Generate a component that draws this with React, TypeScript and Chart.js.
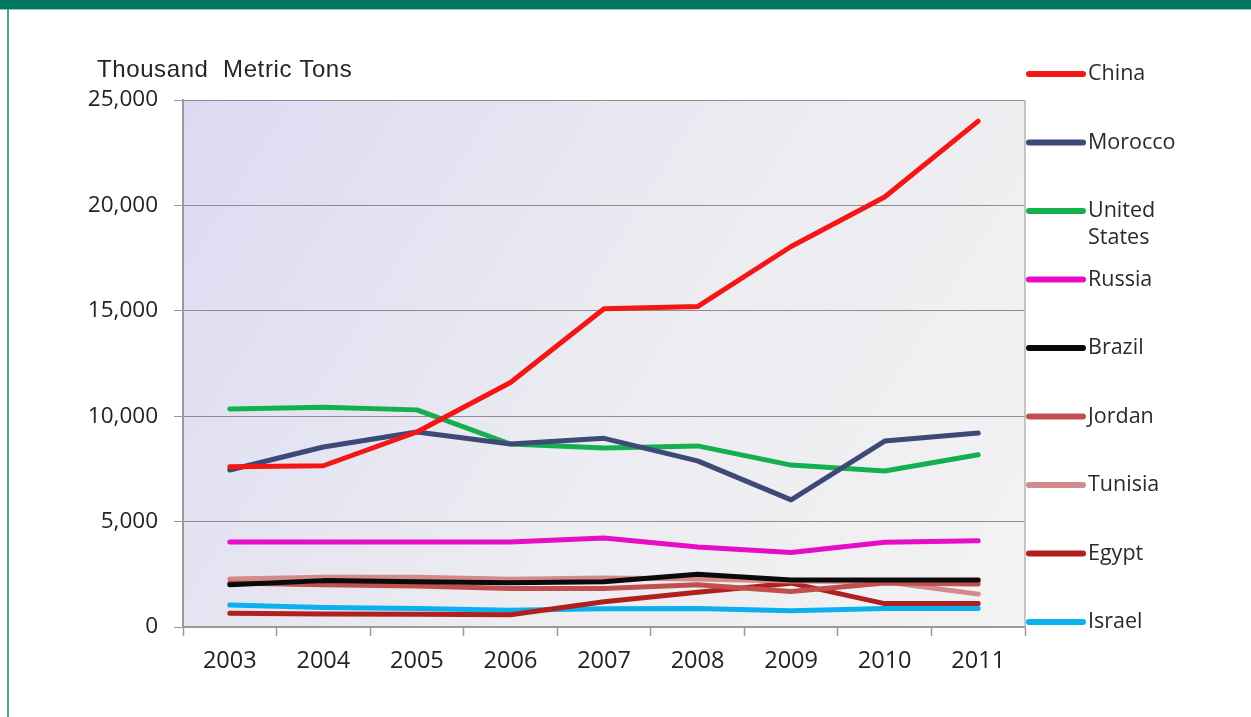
import React, { useEffect, useRef } from "react";
import { Chart, registerables } from "chart.js";

Chart.register(...registerables);

const years = ["2003", "2004", "2005", "2006", "2007", "2008", "2009", "2010", "2011"];

const china = [7600, 7650, 9250, 11600, 15100, 15200, 18050, 20400, 24000];
const morocco = [7450, 8540, 9250, 8680, 8950, 7880, 6030, 8820, 9200];
const unitedStates = [10340, 10430, 10300, 8680, 8490, 8590, 7680, 7400, 8170];
const russia = [4030, 4030, 4030, 4030, 4220, 3800, 3530, 4020, 4090];
const brazil = [2000, 2200, 2150, 2100, 2150, 2500, 2230, 2230, 2230];
const jordan = [2090, 2000, 1950, 1830, 1830, 2000, 1680, 2090, 2040];
const tunisia = [2280, 2360, 2360, 2260, 2330, 2280, 2180, 2150, 1560];
const egypt = [650, 620, 600, 580, 1200, 1650, 2080, 1110, 1110];
const israel = [1040, 930, 880, 800, 860, 880, 770, 880, 880];

const seriesNames = ["China", "Morocco", "United\nStates", "Russia", "Brazil", "Jordan", "Tunisia", "Egypt", "Israel"];
const seriesValues = [china, morocco, unitedStates, russia, brazil, jordan, tunisia, egypt, israel];
const seriesColors = ["#f51515", "#3d4a78", "#14b050", "#e80cc6", "#0a0a0a", "#c0504d", "#d48a8a", "#b0201f", "#0db0ee"];

const yTitle = "Thousand  Metric Tons";

const bgPlugin = {
  id: "bgPlugin",
  beforeDraw(chart: any) {
    const { ctx, chartArea: a } = chart;
    ctx.save();
    const g = ctx.createLinearGradient(a.left, a.top, a.right, a.bottom);
    g.addColorStop(0, "#dcdaf2");
    g.addColorStop(0.5, "#ebebf1");
    g.addColorStop(1, "#f3f3f3");
    ctx.fillStyle = g;
    ctx.fillRect(a.left, a.top, a.right - a.left, a.bottom - a.top);
    ctx.restore();
  },
  afterDraw(chart: any) {
    const { ctx, chartArea: a } = chart;
    ctx.save();
    ctx.strokeStyle = "#b4b4b4";
    ctx.lineWidth = 1.5;
    ctx.beginPath();
    ctx.moveTo(a.right, a.top);
    ctx.lineTo(a.right, a.bottom);
    ctx.stroke();
    ctx.fillStyle = "#262626";
    ctx.font = "24px 'Liberation Sans', Arial, sans-serif";
    (ctx as any).letterSpacing = "0.6px";
    ctx.textAlign = "left";
    ctx.textBaseline = "middle";
    ctx.fillText(yTitle, 97, 70);
    (ctx as any).letterSpacing = "0px";
    const ds = chart.data.datasets;
    ctx.font = "21.5px 'Open Sans', sans-serif";
    ds.forEach((d: any, i: number) => {
      const y = 74 + i * 68.5;
      ctx.strokeStyle = d.borderColor;
      ctx.lineWidth = 6;
      ctx.lineCap = "round";
      ctx.beginPath();
      ctx.moveTo(1029, y);
      ctx.lineTo(1083, y);
      ctx.stroke();
      ctx.fillStyle = "#2a2a2a";
      const lines = String(d.label).split("\n");
      lines.forEach((t: string, k: number) => {
        ctx.fillText(t, 1088, y + k * 27);
      });
    });
    ctx.restore();
  },
};

export default function App() {
  const ref = useRef<HTMLCanvasElement>(null);
  useEffect(() => {
    if (!ref.current) return;
    const chart = new Chart(ref.current, {
      type: "line",
      data: {
        labels: years,
        datasets: seriesNames.map((n, i) => ({
          label: n,
          data: seriesValues[i],
          borderColor: seriesColors[i],
          backgroundColor: seriesColors[i],
          borderWidth: 5,
          pointRadius: 0,
          tension: 0,
          borderCapStyle: "round" as const,
          borderJoinStyle: "round" as const,
        })),
      },
      options: {
        animation: false,
        responsive: false,
        maintainAspectRatio: false,
        layout: { padding: { top: 100, right: 226, left: 0, bottom: 0 } },
        plugins: { legend: { display: false }, tooltip: { enabled: false } },
        scales: {
          x: {
            offset: true,
            grid: {
              display: true,
              offset: true,
              drawOnChartArea: false,
              drawTicks: true,
              tickLength: 9,
              tickColor: "#9a9a9a",
              tickWidth: 1.5,
            },
            border: { display: true, color: "#9a9a9a", width: 2 },
            ticks: {
              color: "#222222",
              font: { family: "'Open Sans', sans-serif", size: 23.5 },
              padding: 11,
              maxRotation: 0,
            },
            afterFit(scale: any) {
              scale.height = 90;
              scale.paddingLeft = 0;
              scale.paddingRight = 0;
            },
          },
          y: {
            min: 0,
            max: 25000,
            ticks: {
              stepSize: 5000,
              color: "#222222",
              font: { family: "'Open Sans', sans-serif", size: 22.5 },
              padding: 16,
            },
            grid: {
              color: "#8e8e8e",
              lineWidth: 1,
              tickLength: 9,
              tickColor: "#9a9a9a",
            },
            border: { display: true, color: "#9a9a9a", width: 2 },
            afterFit(scale: any) {
              scale.width = 183;
              scale.paddingTop = 0;
              scale.paddingBottom = 0;
            },
          },
        },
      },
      plugins: [bgPlugin],
    });
    return () => chart.destroy();
  }, []);

  return (
    <div style={{ position: "fixed", left: 0, top: 0, width: 1251, height: 717, background: "#ffffff", overflow: "hidden" }}>
      <div style={{ position: "absolute", left: 0, top: 0, width: 1251, height: 9, background: "#00765d" }} />
      <div style={{ position: "absolute", left: 0, top: 9, width: 1251, height: 1, background: "#8fcdbd" }} />
      <div style={{ position: "absolute", left: 7, top: 9, width: 2, height: 708, background: "#44a58c" }} />
      <canvas ref={ref} width={1251} height={717} style={{ position: "absolute", left: 0, top: 0, width: 1251, height: 717 }} />
    </div>
  );
}
